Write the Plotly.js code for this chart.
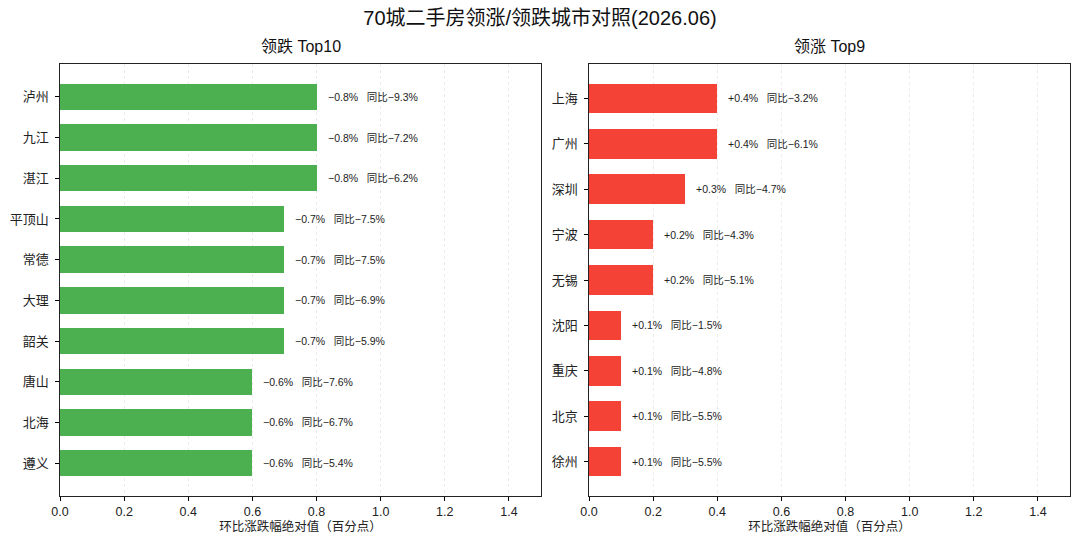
<!DOCTYPE html>
<html><head><meta charset="utf-8">
<script src="https://cdn.plot.ly/plotly-3.0.1.min.js"></script>
<style>body{margin:0;background:#fff}#c{width:1080px;height:546px}</style>
</head><body><div id="c"></div>
<script>
const fallCities = ['泸州','九江','湛江','平顶山','常德','大理','韶关','唐山','北海','遵义'];
const fallMoM = [-0.8,-0.8,-0.8,-0.7,-0.7,-0.7,-0.7,-0.6,-0.6,-0.6];
const fallYoY = [-9.3,-7.2,-6.2,-7.5,-7.5,-6.9,-5.9,-7.6,-6.7,-5.4];
const riseCities = ['上海','广州','深圳','宁波','无锡','沈阳','重庆','北京','徐州'];
const riseMoM = [0.4,0.4,0.3,0.2,0.2,0.1,0.1,0.1,0.1];
const riseYoY = [-3.2,-6.1,-4.7,-4.3,-5.1,-1.5,-4.8,-5.5,-5.5];
const xTicks = [0,0.2,0.4,0.6,0.8,1.0,1.2,1.4];
const xTickText = ['0.0','0.2','0.4','0.6','0.8','1.0','1.2','1.4'];

const FONT = '"Liberation Sans", "Noto Sans CJK SC", sans-serif';
const fmt = v => (v < 0 ? '\u2212' : '+') + Math.abs(v).toFixed(1) + '%';
const fmtY = v => (v < 0 ? '\u2212' : '') + Math.abs(v).toFixed(1) + '%';
const GAP = '\u00a0\u00a0\u00a0';

const traces = [
  {type:'bar', orientation:'h', x:fallMoM.map(Math.abs), y:fallCities, xaxis:'x', yaxis:'y',
   marker:{color:'#4CAF50'}, width:0.65, hoverinfo:'none'},
  {type:'bar', orientation:'h', x:riseMoM.map(Math.abs), y:riseCities, xaxis:'x2', yaxis:'y2',
   marker:{color:'#F44336'}, width:0.65, hoverinfo:'none'}
];

const ann = [];
fallCities.forEach((c,i)=>ann.push({xref:'x',yref:'y',x:Math.abs(fallMoM[i]),y:c,xanchor:'left',yanchor:'middle',
  xshift:9,showarrow:false,text:fmt(fallMoM[i])+GAP+'同比'+fmtY(fallYoY[i]),font:{size:10.5,color:'#222'}}));
riseCities.forEach((c,i)=>ann.push({xref:'x2',yref:'y2',x:Math.abs(riseMoM[i]),y:c,xanchor:'left',yanchor:'middle',
  xshift:9,showarrow:false,text:fmt(riseMoM[i])+GAP+'同比'+fmtY(riseYoY[i]),font:{size:10.5,color:'#222'}}));
ann.push({xref:'paper',yref:'paper',x:(0.0556+0.5009)/2,y:1-46/546,xanchor:'center',yanchor:'middle',showarrow:false,
  text:'领跌 Top10',font:{size:16,color:'#111'}});
ann.push({xref:'paper',yref:'paper',x:(0.5454+0.9907)/2,y:1-46/546,xanchor:'center',yanchor:'middle',showarrow:false,
  text:'领涨 Top9',font:{size:16,color:'#111'}});

const xa = d => ({domain:d, range:[0,1.5], tickvals:xTicks, ticktext:xTickText, ticks:'outside', ticklen:4, tickcolor:'#000',
  showline:true, mirror:true, linecolor:'#222', linewidth:1, showgrid:true, gridcolor:'#e6e6e6', griddash:'3px,3px', gridwidth:0.8,
  zeroline:false, tickfont:{size:12.5,color:'#222'}, fixedrange:true,
  title:{text:'环比涨跌幅绝对值（百分点）', font:{size:12.5,color:'#222'}, standoff:4}});
const ya = (anchor, cats, range) => ({domain:[1-496/546, 1-64/546], anchor:anchor, type:'category', categoryarray:cats, categoryorder:'array',
  range:range, ticks:'outside', ticklen:4, tickcolor:'#000', showline:true, mirror:true,
  linecolor:'#222', linewidth:1, showgrid:false, zeroline:false, tickfont:{size:13,color:'#222'}, ticksuffix:' ', fixedrange:true});

const yL = ya('x', fallCities, [9.8075, -0.8075]);
const yR = ya('x2', riseCities, [8.7575, -0.7575]);
const xL = xa([0.0556,0.5009]); xL.anchor='y';
const xR = xa([0.5454,0.9907]); xR.anchor='y2';

const layout = {
  width:1080, height:546, margin:{l:0,r:0,t:0,b:0}, paper_bgcolor:'#fff', plot_bgcolor:'#fff',
  font:{family:FONT, color:'#222'}, showlegend:false, bargap:0,
  title:{text:'70城二手房领涨/领跌城市对照(2026.06)', x:0.5, xanchor:'center', y:1-18/546, yanchor:'middle', font:{size:20,color:'#111'}},
  xaxis:xL, yaxis:yL, xaxis2:xR, yaxis2:yR, annotations:ann
};
Plotly.newPlot('c', traces, layout, {staticPlot:true, displayModeBar:false});
</script></body></html>
